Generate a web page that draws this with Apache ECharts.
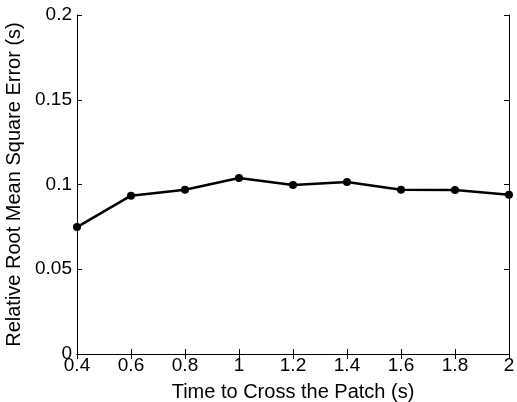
<!DOCTYPE html>
<html>
<head>
<meta charset="utf-8">
<script src="https://cdn.jsdelivr.net/npm/echarts@6/dist/echarts.min.js"></script>
<style>
  html, body { margin: 0; padding: 0; background: #fff; }
  #chart { width: 517px; height: 402px; }
</style>
</head>
<body>
<div id="chart"></div>
<script>
// crossing time (s) and relative RMSE (s)
const crossTime = [0.4, 0.6, 0.8, 1.0, 1.2, 1.4, 1.6, 1.8, 2.0];
const rmse = [0.0749, 0.0934, 0.0969, 0.1038, 0.0997, 0.1015, 0.0969, 0.0968, 0.094];

const fontFam = '"Liberation Sans", Arial, Helvetica, sans-serif';

let myChart = echarts.init(document.getElementById('chart'));

const fmt = function (v) { return String(parseFloat(v.toFixed(2))); };

const axisLine = { show: true, lineStyle: { color: '#000', width: 1 } };
const innerTick = { show: true, inside: true, length: 5, lineStyle: { color: '#000' } };

let option = {
    animation: false,
    grid: { left: 77, top: 15, right: 8, bottom: 48, containLabel: false, outerBoundsMode: 'none' },
    xAxis: [{
        type: 'value', min: 0.4, max: 2, interval: 0.2,
        name: 'Time to Cross the Patch (s)',
        nameLocation: 'middle', nameGap: 28,
        nameTextStyle: { color: '#000', fontSize: 20, fontFamily: fontFam },
        axisLine: axisLine, axisTick: innerTick, splitLine: { show: false },
        axisLabel: { color: '#000', fontSize: 19, fontFamily: fontFam, margin: 2, formatter: fmt }
    }, {
        type: 'value', min: 0.4, max: 2, interval: 0.2, position: 'top',
        axisLine: axisLine, axisTick: innerTick, splitLine: { show: false },
        axisLabel: { show: false }
    }],
    yAxis: [{
        type: 'value', min: 0, max: 0.2, interval: 0.05,
        name: 'Relative Root Mean Square Error (s)',
        nameLocation: 'middle', nameGap: 43,
        nameTextStyle: { color: '#000', fontSize: 20, fontFamily: fontFam },
        axisLine: axisLine, axisTick: innerTick, splitLine: { show: false },
        axisLabel: { color: '#000', fontSize: 19, fontFamily: fontFam, margin: 5, formatter: fmt }
    }, {
        type: 'value', min: 0, max: 0.2, interval: 0.05, position: 'right',
        axisLine: axisLine, axisTick: innerTick, splitLine: { show: false },
        axisLabel: { show: false }
    }],
    series: [{
        type: 'line',
        data: crossTime.map((t, i) => [t, rmse[i]]),
        symbol: 'circle', symbolSize: 8,
        lineStyle: { color: '#000', width: 2.5 },
        itemStyle: { color: '#000' }
    }]
};

myChart.setOption(option);
</script>
</body>
</html>
